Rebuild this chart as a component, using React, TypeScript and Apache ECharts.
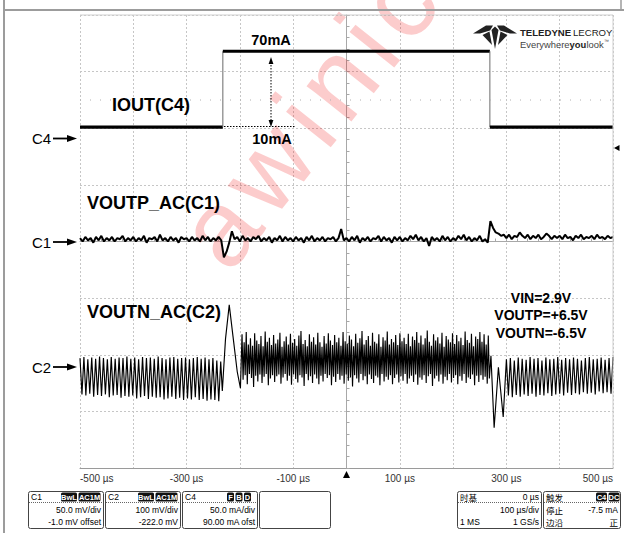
import React, { useEffect, useRef } from 'react';
import * as echarts from 'echarts';

// ---------- time base ----------
const TIME_MIN_US = -500;
const TIME_MAX_US = 500;
const TIME_DIV_US = 100;
const HALF_DIVS_Y = 4;

// ---------- channel settings (from the info boxes) ----------
const C1_SCALE_MV = 50;
const C1_OFFSET_MV = -1.0;
const C2_SCALE_MV = 100;
const C2_OFFSET_MV = -222.0;
const C4_SCALE_MA = 50;
const C4_OFFSET_MA = 90.0;

// ---------- C4 : IOUT (mA) ----------
const C4_TIME_US = [-500, -232, -232, 269, 269, 500];
const C4_MA = [11, 11, 78, 78, 11, 11];

// ---------- C1 : VOUTP_AC (mV), one sample every 5 us from -500 us ----------
const C1_START_US = -500;
const C1_END_US = 500;
const C1_MV = [
  4, 1, 5, 2, 4, 0, 5, 2, 6, 1, 4, 2, 5, 1, 4, 3, 6, 1, 4, 2,
  5, 1, 4, 2, 6, 0, 4, 3, 5, 1, 7, 2, 4, 1, 5, 2, 4, 0, 5, 3,
  4, 1, 5, 2, 4, 1, 6, 2, 5, 1, 4, 2, 5, 2, -13, -8, 0, 10, 3, 5,
  1, 6, 2, 4, 1, 5, 3, 6, 1, 4, 2, 5, 0, 4, 2, 6, 1, 5, 2, 4,
  1, 5, 2, 4, 0, 5, 2, 6, 1, 4, 2, 5, 1, 4, 3, 5, 1, 4, 12, 2,
  4, 1, 5, 2, 6, 0, 4, 2, 5, 1, 4, 3, 6, 1, 5, 2, 4, 0, 5, 2,
  5, 1, 4, 2, 6, 3, 7, 2, 5, 1, 4, -3, 5, 2, 4, 1, 6, 2, 5, 1,
  4, 2, 6, 3, 7, 2, 5, 1, 4, 2, 6, 1, 3, 0, 19, 13, 9, 8, 6, 7,
  4, 7, 3, 6, 5, 9, 6, 4, 7, 3, 6, 4, 7, 3, 5, 8, 6, 3, 6, 4,
  6, 3, 7, 4, 5, 2, 6, 4, 7, 3, 5, 4, 6, 3, 7, 4, 5, 3, 6, 4,
  5,
];

// ---------- C2 : VOUTN_AC (mV) ----------
// ripple before the load step (alternate peaks / troughs)
const C2_LEFT_START_US = -500;
const C2_LEFT_END_US = -236;
const C2_LEFT_MV = [
  16, -48, 18, -50, 14, -47, 17, -52, 15, -49,
  19, -51, 16, -48, 14, -53, 18, -50, 15, -49,
  17, -54, 16, -51, 19, -52, 15, -50, 17, -55,
  14, -53, 18, -51, 16, -56, 17, -52, 15, -54,
  19, -53, 16, -57, 14, -55, 17, -52, 18, -56,
  15, -54, 16, -58, 17, -55, 14, -57, 16, -53,
  18, -58, 15, -56, 17, -59, 14, -57, 16, -58,
  12, -60, 10,
];
// overshoot at the load step
const C2_PULSE_US = [-233, -227, -220, -213, -205, -199];
const C2_PULSE_MV = [-42, 50, 110, 55, -8, -37];
// dense ripple under load: per-cycle highs and lows
const C2_DENSE_START_US = -196;
const C2_DENSE_END_US = 268;
const C2_DENSE_HIGH_MV = [
  58, 44, 62, 40, 51, 38, 60, 47, 41, 55, 37, 63, 45, 52, 39, 57, 42, 49, 61, 36,
  46, 54, 40, 59, 43, 50, 38, 56, 64, 41, 48, 37, 58, 45, 53, 40, 61, 44, 36, 55,
  42, 60, 47, 39, 57, 44, 52, 38, 62, 46, 41, 56, 49, 37, 59, 43, 51, 64, 40, 48,
  55, 38, 61, 45, 42, 58, 36, 53, 47, 63, 40, 50, 44, 57, 39, 60, 46, 52, 41, 59,
  37, 54, 48, 62, 43, 56, 40, 51, 65, 45, 38, 58, 47, 53, 42, 61, 36, 55, 49, 44,
  60, 41, 57, 46, 52, 39, 63, 48, 43, 59, 37, 54, 50, 62, 45, 58, 40, 56,
];
const C2_DENSE_LOW_MV = [
  -22, -14, -30, -12, -19, -35, -15, -25, -13, -28, -17, -12, -32, -20, -14, -26, -16, -13, -29, -18,
  -12, -24, -15, -31, -13, -21, -27, -14, -18, -33, -12, -23, -16, -28, -13, -20, -30, -15, -25, -12,
  -19, -14, -32, -17, -26, -12, -22, -15, -29, -13, -24, -18, -34, -14, -20, -27, -12, -23, -16, -30,
  -13, -21, -28, -15, -18, -32, -12, -25, -17, -22, -14, -30, -19, -13, -27, -16, -24, -12, -29, -20,
  -15, -26, -13, -31, -18, -22, -14, -28, -16, -12, -33, -20, -15, -25, -13, -29, -17, -23, -12, -27,
  -19, -14, -30, -16, -24, -12, -28, -18, -21, -13, -32, -15, -26, -14, -22, -17, -29, -20,
];
// undershoot at load release
const C2_DIP_US = [271, 277, 285, 294];
const C2_DIP_MV = [20, -107, 0, -88];
// ripple after release
const C2_RIGHT_START_US = 300;
const C2_RIGHT_END_US = 500;
const C2_RIGHT_MV = [
  14, -50, 16, -53, 12, -49, 17, -52, 15, -48,
  13, -51, 18, -47, 15, -52, 16, -49, 12, -50,
  17, -46, 14, -51, 15, -48, 18, -47, 13, -50,
  16, -45, 14, -49, 17, -46, 15, -48, 12, -44,
  16, -47, 18, -45, 14, -48, 15, -43, 17, -46,
  13, -44, 16, -47, 18,
];

// ---------- helpers ----------
const FONT = '"Liberation Sans", Arial, sans-serif';
const CJK = '"Noto Sans CJK SC", "Liberation Sans", sans-serif';

const sampled = (t0: number, t1: number, vals: number[]) =>
  vals.map((v, i) => [t0 + ((t1 - t0) * i) / (vals.length - 1), v]);
const paired = (ts: number[], vs: number[]) => ts.map((t, i) => [t, vs[i]]);
const range = (scale: number, offset: number) => ({
  min: -offset - HALF_DIVS_Y * scale,
  max: -offset + HALF_DIVS_Y * scale,
});

const txt = (x: number, y: number, text: string, font: string, align = 'left', fill = '#000', z = 100) => ({
  type: 'text', x, y, z, silent: true,
  style: { text, font, fill, textAlign: align, textVerticalAlign: 'middle' },
});
const ln = (x1: number, y1: number, x2: number, y2: number, stroke: string, lineWidth = 1, lineDash?: number[]) => ({
  type: 'line', z: 100, silent: true,
  shape: { x1, y1, x2, y2 },
  style: { stroke, lineWidth, lineDash },
});
const poly = (points: number[][], fill: string) => ({
  type: 'polygon', z: 100, silent: true, shape: { points }, style: { fill },
});
const rect = (x: number, y: number, w: number, h: number, fill: string, stroke: string | null, r = 2) => ({
  type: 'rect', z: 100, silent: true,
  shape: { x, y, width: w, height: h, r },
  style: { fill, stroke: stroke || undefined, lineWidth: 1 },
});
const badge = (x: number, w: number, label: string) => [
  rect(x, 492.5, w, 9, '#111', null, 1.5),
  txt(x + w / 2, 497.2, label, `bold 7.5px ${FONT}`, 'center', '#fff'),
];
const chMarker = (label: string, y: number) => [
  txt(32, y, label, `15px ${FONT}`),
  ln(53, y, 70, y, '#000', 1.8),
  poly([[67, y - 3.6], [77, y], [67, y + 3.6]], '#000'),
];

// watermark letters laid along a slanted line
const WM_TEXT = 'awinic';
const WM_ADV = [55.6, 72.2, 22.2, 55.6, 22.2, 50];
const WM_SIZE = 108;
const WM_ANGLE = 0.9;
const watermark = () => {
  const dx = Math.cos(WM_ANGLE);
  const dy = -Math.sin(WM_ANGLE);
  const k = WM_SIZE / 100;
  let d = 0;
  const out: any[] = [];
  for (let i = 0; i < WM_TEXT.length; i++) {
    out.push({
      type: 'text', x: 200 + d * dx, y: 252 + d * dy, rotation: WM_ANGLE, z: 1, silent: true,
      style: { text: WM_TEXT[i], font: `${WM_SIZE}px ${FONT}`, fill: 'rgba(238,0,0,0.2)', textAlign: 'left', textVerticalAlign: 'middle' },
    });
    d += WM_ADV[i] * k + 9;
  }
  return out;
};

const SMALL = `8.5px ${FONT}`;
const SMALL_CJK = `8.5px ${CJK}`;
const ROW1 = 497;
const ROW2 = 509.5;
const ROW3 = 521.5;

export default function App() {
  const ref = useRef<HTMLDivElement>(null);

  useEffect(() => {
    if (!ref.current) return;
    const chart = echarts.init(ref.current, null, { renderer: 'svg' });

    const c4Segments: number[][][] = [];
    for (let i = 0; i < C4_TIME_US.length - 1; i++) {
      c4Segments.push([
        [C4_TIME_US[i], C4_MA[i]],
        [C4_TIME_US[i + 1], C4_MA[i + 1]],
      ]);
    }
    const c2Dense = C2_DENSE_HIGH_MV.flatMap((h, i) => [h, C2_DENSE_LOW_MV[i]]);
    const c2Data = [
      ...sampled(C2_LEFT_START_US, C2_LEFT_END_US, C2_LEFT_MV),
      ...paired(C2_PULSE_US, C2_PULSE_MV),
      ...sampled(C2_DENSE_START_US, C2_DENSE_END_US, c2Dense),
      ...paired(C2_DIP_US, C2_DIP_MV),
      ...sampled(C2_RIGHT_START_US, C2_RIGHT_END_US, C2_RIGHT_MV),
    ];
    const c1Data = sampled(C1_START_US, C1_END_US, C1_MV);

    const gridLine = { color: '#c6c6c6', type: [2, 2], width: 1 };

    const graphics: any[] = [
      // outer frame
      ln(4, 0, 4, 533, '#9c9c9c', 2),
      ln(4, 10, 624, 10, '#9c9c9c', 2),
      ln(621, 0, 621, 10, '#9c9c9c', 1.5),
      ln(80, 15, 613, 15, '#cfcfcf', 1),
      ln(613, 15, 613, 468, '#cfcfcf', 1),
      ln(80, 100, 613, 100, '#b0b0b0', 1, [1, 9]),
      // watermark
      ...watermark(),
      // channel labels
      txt(112, 105, 'IOUT(C4)', `bold 18px ${FONT}`),
      txt(87, 203, 'VOUTP_AC(C1)', `bold 18px ${FONT}`),
      txt(87, 312, 'VOUTN_AC(C2)', `bold 18px ${FONT}`),
      txt(271, 40, '70mA', `bold 14.5px ${FONT}`, 'center'),
      txt(272, 138.5, '10mA', `bold 14.5px ${FONT}`, 'center'),
      txt(541, 298, 'VIN=2.9V', `bold 14px ${FONT}`, 'center'),
      txt(541, 315, 'VOUTP=+6.5V', `bold 14px ${FONT}`, 'center'),
      txt(541, 333, 'VOUTN=-6.5V', `bold 14px ${FONT}`, 'center'),
      // load step dimension arrow
      ln(271, 62, 271, 121, '#000', 1, [1.5, 1.5]),
      poly([[268.6, 64], [271, 57], [273.4, 64]], '#000'),
      poly([[268.6, 120], [271, 127], [273.4, 120]], '#000'),
      ln(224, 126.5, 296, 126.5, '#000', 1, [1.5, 1.5]),
      // channel markers
      ...chMarker('C4', 138.5),
      ...chMarker('C1', 242),
      ...chMarker('C2', 367),
      // trigger markers
      poly([[343, 478], [346.5, 471], [350, 478]], '#000'),
      poly([[614, 148], [619.5, 145], [619.5, 151]], '#000'),
      // logo
      poly([[473, 33.5], [486, 25.5], [493, 25.5], [490, 30.5], [480, 33.5]], '#222'),
      poly([[517, 33.5], [504, 25.5], [497, 25.5], [500, 30.5], [510, 33.5]], '#222'),
      poly([[482.5, 35], [489.5, 31.5], [492, 45]], '#222'),
      poly([[507.5, 35], [500.5, 31.5], [498, 45]], '#222'),
      poly([[491.5, 30], [495, 26.5], [498.5, 30], [495, 49]], '#222'),
      txt(520, 32, 'TELEDYNE', `bold 9.6px ${FONT}`, 'left', '#222'),
      txt(573, 32, 'LECROY', `9.6px ${FONT}`, 'left', '#222'),
      txt(520, 44, 'Everywhere', `9.4px ${FONT}`, 'left', '#444'),
      txt(569.5, 44, 'you', `bold 9.4px ${FONT}`, 'left', '#222'),
      txt(586.5, 44, 'look', `9.4px ${FONT}`, 'left', '#444'),
      txt(604, 41, '™', `5px ${FONT}`, 'left', '#444'),
      // info box C1
      rect(28.5, 491.5, 75, 37, '#fff', '#444'),
      txt(31, ROW1, 'C1', SMALL),
      ...badge(61, 16, 'BwL'),
      ...badge(78.5, 22, 'AC1M'),
      ln(29, 502.5, 103, 502.5, '#666', 1, [1, 1]),
      txt(101, ROW2, '50.0 mV/div', SMALL, 'right'),
      txt(101, ROW3, '-1.0 mV offset', SMALL, 'right'),
      // info box C2
      rect(105.5, 491.5, 75, 37, '#fff', '#444'),
      txt(108, ROW1, 'C2', SMALL),
      ...badge(138, 16, 'BwL'),
      ...badge(155.5, 22, 'AC1M'),
      ln(106, 502.5, 180, 502.5, '#666', 1, [1, 1]),
      txt(178, ROW2, '100 mV/div', SMALL, 'right'),
      txt(178, ROW3, '-222.0 mV', SMALL, 'right'),
      // info box C4
      rect(182.5, 491.5, 75, 37, '#fff', '#444'),
      txt(185, ROW1, 'C4', SMALL),
      ...badge(227, 7, 'F'),
      ...badge(235.5, 7, 'B'),
      ...badge(244, 7, 'D'),
      ln(183, 502.5, 257, 502.5, '#666', 1, [1, 1]),
      txt(255, ROW2, '50.0 mA/div', SMALL, 'right'),
      txt(255, ROW3, '90.00 mA ofst', SMALL, 'right'),
      // empty box
      rect(259.5, 491.5, 71, 37, '#fff', '#444'),
      // timebase box
      rect(457.5, 491.5, 84, 37, '#fff', '#444'),
      txt(460, ROW1, '时基', SMALL_CJK),
      txt(539, ROW1, '0 µs', SMALL, 'right'),
      ln(458, 502.5, 541, 502.5, '#666', 1, [1, 1]),
      txt(539, ROW2, '100 µs/div', SMALL, 'right'),
      txt(460, ROW3, '1 MS', SMALL),
      txt(539, ROW3, '1 GS/s', SMALL, 'right'),
      // trigger box
      rect(543.5, 491.5, 77, 37, '#fff', '#444'),
      txt(546, ROW1, '触发', SMALL_CJK),
      ...badge(596, 11, 'C4'),
      ...badge(608.5, 11, 'DC'),
      ln(544, 502.5, 620, 502.5, '#666', 1, [1, 1]),
      txt(546, ROW2, '停止', SMALL_CJK),
      txt(618, ROW2, '-7.5 mA', SMALL, 'right'),
      txt(546, ROW3, '边沿', SMALL_CJK),
      txt(618, ROW3, '正', SMALL_CJK, 'right'),
    ];

    const c4Range = range(C4_SCALE_MA, C4_OFFSET_MA);
    const c1Range = range(C1_SCALE_MV, C1_OFFSET_MV);
    const c2Range = range(C2_SCALE_MV, C2_OFFSET_MV);

    const option: any = {
      animation: false,
      backgroundColor: '#fff',
      grid: { left: 80, right: 11, top: 15, bottom: 65, show: false, containLabel: false, outerBoundsMode: 'none' },
      xAxis: [
        {
          type: 'value', min: TIME_MIN_US, max: TIME_MAX_US, interval: TIME_DIV_US, position: 'bottom',
          axisLine: { show: true, onZero: false, lineStyle: { color: '#9a9a9a', width: 1 } },
          axisTick: { show: false },
          axisLabel: {
            color: '#333', fontSize: 10, fontFamily: FONT, margin: 5,
            alignMinLabel: 'left', alignMaxLabel: 'right',
            formatter: (v: number) => (Math.abs(Math.round(v / TIME_DIV_US)) % 2 === 1 ? `${v} µs` : ''),
          },
          splitLine: { show: true, lineStyle: gridLine },
        },
        {
          type: 'value', min: TIME_MIN_US, max: TIME_MAX_US, interval: TIME_DIV_US,
          axisLine: { show: true, onZero: true, onZeroAxisIndex: 0, lineStyle: { color: '#a8a8a8' } },
          axisTick: { show: true, length: 3, lineStyle: { color: '#a8a8a8' } },
          minorTick: { show: true, splitNumber: 5, length: 3, lineStyle: { color: '#a8a8a8' } },
          axisLabel: { show: false },
          splitLine: { show: false },
        },
      ],
      yAxis: [
        {
          type: 'value', min: -HALF_DIVS_Y, max: HALF_DIVS_Y, interval: 1,
          axisLine: { show: false, onZero: false }, axisTick: { show: false }, axisLabel: { show: false },
          splitLine: { show: true, lineStyle: gridLine },
        },
        {
          type: 'value', min: -HALF_DIVS_Y, max: HALF_DIVS_Y, interval: 1,
          axisLine: { show: true, onZero: true, onZeroAxisIndex: 0, lineStyle: { color: '#a8a8a8' } },
          axisTick: { show: true, length: 3, lineStyle: { color: '#a8a8a8' } },
          minorTick: { show: true, splitNumber: 5, length: 3, lineStyle: { color: '#a8a8a8' } },
          axisLabel: { show: false }, splitLine: { show: false },
        },
        { type: 'value', show: false, ...c1Range },
        { type: 'value', show: false, ...c2Range },
        { type: 'value', show: false, ...c4Range },
      ],
      series: [
        ...c4Segments.map((seg, i) => ({
          type: 'line', name: `C4-${i}`, yAxisIndex: 4, data: seg, showSymbol: false, symbol: 'none', silent: true,
          lineStyle: seg[0][0] === seg[1][0] ? { color: '#6a6a6a', width: 1 } : { color: '#000', width: 3.2 },
          z: 3,
        })),
        {
          type: 'line', name: 'C1', yAxisIndex: 2, data: c1Data, showSymbol: false, symbol: 'none', silent: true,
          lineStyle: { color: '#000', width: 2 }, z: 3,
        },
        {
          type: 'line', name: 'C2', yAxisIndex: 3, data: c2Data, showSymbol: false, symbol: 'none', silent: true,
          lineStyle: { color: '#000', width: 1.15 }, z: 3,
        },
      ],
      graphic: { elements: graphics },
    };

    chart.setOption(option);
    return () => chart.dispose();
  }, []);

  return (
    <div
      ref={ref}
      style={{ position: 'fixed', left: 0, top: 0, width: 624, height: 533, background: '#fff' }}
    />
  );
}
